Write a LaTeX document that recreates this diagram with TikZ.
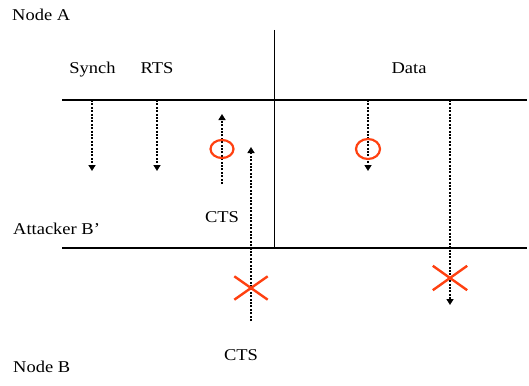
\documentclass[tikz,border=0pt]{standalone}
\usepackage{fontspec}
\setmainfont{Liberation Serif}[FakeStretch=1.12]
\usetikzlibrary{arrows.meta,shapes.geometric,shapes.misc}
\definecolor{xred}{RGB}{255,64,16}
\tikzset{
  lbl/.style={inner sep=0pt, anchor=base, font=\fontsize{16.5}{19}\selectfont},
  lblw/.style={lbl, anchor=base west},
  axis/.style={line width=2pt},
  divider/.style={line width=1pt},
  msg/.style={line width=2.6pt, dash pattern=on 2pt off 1.4pt, -{Triangle[width=7pt,length=6pt]}},
  lost/.style={draw=xred, line width=2.4pt},
  seen/.style={draw=xred, line width=2.2pt, ellipse, inner sep=0pt},
}
\begin{document}
\begin{tikzpicture}[x=1pt,y=-1pt]
\useasboundingbox (0,0) rectangle (529,385);
% labels
\node[lblw] (nodeA) at (12,20.5) {Node A};
\node[lbl] (synch) at (92.5,74) {Synch};
\node[lbl] (rts) at (157,74) {RTS};
\node[lbl] (data) at (409,74) {Data};
\node[lbl] (cts1) at (222,222) {CTS};
\node[lblw] (att) at (13,234) {Attacker B’};
\node[lbl] (cts2) at (241,360) {CTS};
\node[lblw] (nodeB) at (13,372) {Node B};
% time lines
\coordinate (tl) at (62,100); \coordinate (tr) at (527,100);
\coordinate (bl) at (62,248); \coordinate (br) at (527,248);
\coordinate (vt) at (274,30); \coordinate (vb) at (274,248);
\draw[axis] (tl) -- (tr);
\draw[axis] (bl) -- (br);
\draw[divider] (vt) -- (vb);
% messages
\coordinate (s0) at (92,100); \coordinate (s1) at (92,171);
\coordinate (r0) at (157,100); \coordinate (r1) at (157,171);
\coordinate (c0) at (222,184); \coordinate (c1) at (222,114);
\coordinate (d0) at (251,321); \coordinate (d1) at (251,147);
\coordinate (e0) at (368,100); \coordinate (e1) at (368,171);
\coordinate (f0) at (450,100); \coordinate (f1) at (450,305);
\draw[msg] (s0) -- (s1);
\draw[msg] (r0) -- (r1);
\draw[msg] (c0) -- (c1);
\draw[msg] (d0) -- (d1);
\draw[msg] (e0) -- (e1);
\draw[msg] (f0) -- (f1);
% reception marks
\node[seen, minimum width=23pt, minimum height=18pt] (o1) at (222,149) {};
\node[seen, minimum width=24pt, minimum height=20pt] (o2) at (368,149) {};
\node[lost, cross out, minimum width=31pt, minimum height=21pt, inner sep=0pt] (x1) at (251,288) {};
\node[lost, cross out, minimum width=32pt, minimum height=22pt, inner sep=0pt] (x2) at (450,278) {};
\end{tikzpicture}
\end{document}
